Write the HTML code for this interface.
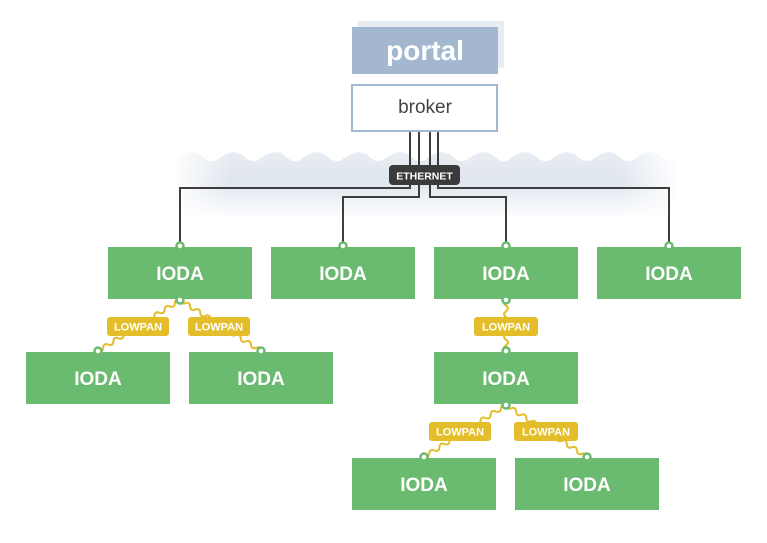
<!DOCTYPE html>
<html><head><meta charset="utf-8"><style>
body{margin:0;background:#fff;width:767px;height:538px;overflow:hidden}
svg text{font-family:"Liberation Sans",sans-serif}
</style></head><body>
<svg id="s" width="767" height="538" viewBox="0 0 767 538" xmlns="http://www.w3.org/2000/svg">
<defs>
<linearGradient id="cg" x1="0" y1="0" x2="0" y2="1">
<stop offset="0" stop-color="#e9edf3"/><stop offset="0.45" stop-color="#dfe5ee"/><stop offset="1" stop-color="#ffffff"/></linearGradient>
<linearGradient id="hg" x1="0" y1="0" x2="1" y2="0">
<stop offset="0" stop-color="#fff" stop-opacity="1"/><stop offset="0.12" stop-color="#fff" stop-opacity="0"/><stop offset="0.88" stop-color="#fff" stop-opacity="0"/><stop offset="1" stop-color="#fff" stop-opacity="1"/></linearGradient>
</defs>
<path id="cloud" fill="url(#cg)" d=""/>
<rect x="170" y="148" width="510" height="75" fill="url(#hg)"/>
<rect x="358" y="21" width="146" height="47" fill="#e8edf4"/>
<rect x="352" y="27" width="146" height="47" fill="#a3b7cf"/>
<text x="425" y="60" font-size="28" font-weight="bold" fill="#fff" text-anchor="middle">portal</text>
<rect x="352" y="85" width="145" height="46" fill="#fff" stroke="#a3b7cf" stroke-width="2"/>
<text x="425" y="113" font-size="19" fill="#444" text-anchor="middle">broker</text>
<g stroke="#3d3d3d" stroke-width="2" fill="none">
<path d="M410 132V188H180V246"/>
<path d="M419 132V197H343V246"/>
<path d="M430 132V197H506V246"/>
<path d="M438 132V188H669V246"/>
</g>
<rect x="389" y="165" width="71" height="20" rx="4" fill="#3a3a3a"/>
<text x="424.5" y="179.5" font-size="10.5" font-weight="bold" fill="#fff" text-anchor="middle">ETHERNET</text>
<g id="waves" stroke="#e3bd2a" stroke-width="2" fill="none"></g>
<g fill="#6aba6f">
<rect x="108" y="247" width="144" height="52"/><rect x="271" y="247" width="144" height="52"/>
<rect x="434" y="247" width="144" height="52"/><rect x="597" y="247" width="144" height="52"/>
<rect x="26" y="352" width="144" height="52"/><rect x="189" y="352" width="144" height="52"/>
<rect x="434" y="352" width="144" height="52"/>
<rect x="352" y="458" width="144" height="52"/><rect x="515" y="458" width="144" height="52"/>
</g>
<g font-size="19" font-weight="bold" fill="#fff" text-anchor="middle">
<text x="180" y="280">IODA</text><text x="343" y="280">IODA</text><text x="506" y="280">IODA</text><text x="669" y="280">IODA</text>
<text x="98" y="385">IODA</text><text x="261" y="385">IODA</text><text x="506" y="385">IODA</text>
<text x="424" y="491">IODA</text><text x="587" y="491">IODA</text>
</g>
<g fill="#fff" stroke="#6aba6f" stroke-width="2.5">
<circle cx="180" cy="246" r="3.5"/><circle cx="343" cy="246" r="3.5"/><circle cx="506" cy="246" r="3.5"/><circle cx="669" cy="246" r="3.5"/>
<circle cx="180" cy="300" r="3.5"/><circle cx="506" cy="300" r="3.5"/><circle cx="506" cy="405" r="3.5"/>
<circle cx="98" cy="351" r="3.5"/><circle cx="261" cy="351" r="3.5"/><circle cx="506" cy="351" r="3.5"/>
<circle cx="424" cy="457" r="3.5"/><circle cx="587" cy="457" r="3.5"/>
</g>
<g fill="#e3bd2a">
<rect x="107" y="317" width="62" height="19" rx="3"/><rect x="188" y="317" width="62" height="19" rx="3"/>
<rect x="474" y="317" width="64" height="19" rx="3"/>
<rect x="429" y="422" width="62" height="19" rx="3"/><rect x="514" y="422" width="64" height="19" rx="3"/>
</g>
<g font-size="11" font-weight="bold" fill="#fff" text-anchor="middle">
<text x="138" y="330.5">LOWPAN</text><text x="219" y="330.5">LOWPAN</text><text x="506" y="330.5">LOWPAN</text>
<text x="460" y="435.5">LOWPAN</text><text x="546" y="435.5">LOWPAN</text>
</g>
</svg>
<script>
(function(){
var ns="http://www.w3.org/2000/svg";
var d="M175 220 L175 160", P=500/12;
for(var i=0;i<12;i++){var x=175+i*P;
 d+=" C"+(x+P*0.3).toFixed(1)+" 150 "+(x+P*0.5).toFixed(1)+" 150 "+(x+P*0.7).toFixed(1)+" 158 Q"+(x+P*0.85).toFixed(1)+" 163 "+(x+P).toFixed(1)+" 160";}
d+=" L675 220 Z";
document.getElementById("cloud").setAttribute("d",d);
var g=document.getElementById("waves");
function wave(x1,y1,x2,y2){
 var dx=x2-x1,dy=y2-y1,L=Math.sqrt(dx*dx+dy*dy),ux=dx/L,uy=dy/L,nx=-uy,ny=ux;
 var n=Math.max(2,Math.round(L/6)),p="M"+x1+" "+y1;
 for(var i=1;i<=n;i++){var t=i/n,mt=(i-0.5)/n,s=(i%2?1:-1)*4;
  p+=" Q"+(x1+dx*mt+nx*s).toFixed(1)+" "+(y1+dy*mt+ny*s).toFixed(1)+" "+(x1+dx*t).toFixed(1)+" "+(y1+dy*t).toFixed(1);}
 var e=document.createElementNS(ns,"path");e.setAttribute("d",p);g.appendChild(e);
}
wave(180,300,98,351);wave(180,300,261,351);wave(506,300,506,351);
wave(506,405,424,457);wave(506,405,587,457);
})();
</script>
</body></html>
